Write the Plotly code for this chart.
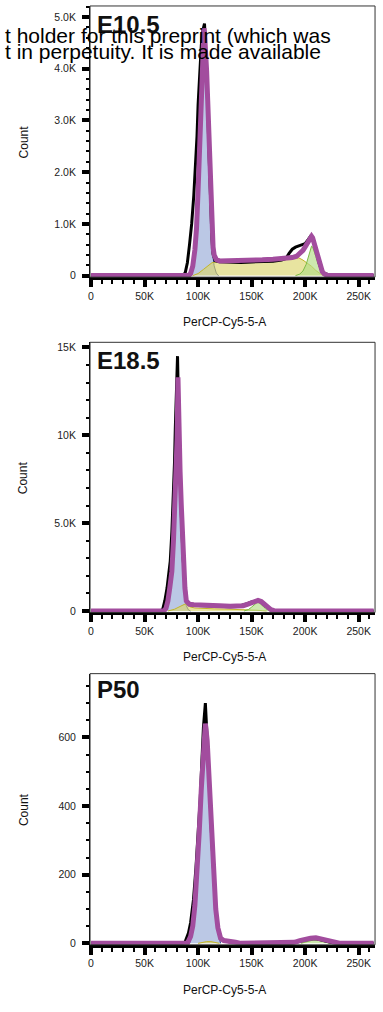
import plotly.graph_objects as go

# ---------------- data (x values in thousands of PerCP-Cy5-5-A units) ----------------
# E10.5
e105_hist_x = [0, 86, 88, 90, 92, 94, 96, 97, 98, 99, 100, 101, 102, 103, 104, 105, 106, 107, 108, 109,
               110, 111, 112, 113, 114, 116, 120, 130, 140, 150, 160, 170, 178, 182, 185, 188, 191, 194, 197, 200,
               203, 205, 207, 209, 211, 213, 215, 218, 222, 228, 232, 235, 264]
e105_hist_y = [0, 0, 60, 250, 600, 1000, 1550, 1900, 2200, 2700, 3300, 3800, 4150, 4450, 4700, 4800, 4870, 4400, 3900, 3300,
               2500, 1800, 1150, 700, 420, 290, 270, 260, 255, 265, 270, 280, 300, 330, 430, 510, 550, 570, 590, 620,
               700, 760, 740, 600, 420, 250, 120, 40, 20, 20, 10, 0, 0]
e105_fit_x = [0, 91, 93, 95, 97, 98.5, 100, 101, 102, 103, 104, 105, 105.5, 106, 107, 108, 109, 110, 111, 112,
              113, 114, 115, 117, 120, 130, 140, 150, 160, 170, 180, 188, 192, 195, 198, 201, 203, 205, 206, 207,
              208, 210, 212, 214, 216, 218, 221, 264]
e105_fit_y = [0, 0, 40, 180, 500, 900, 1650, 2300, 2950, 3550, 4100, 4600, 4780, 4700, 4450, 3950, 3380, 2650, 1950, 1350,
              850, 550, 400, 310, 285, 285, 290, 295, 305, 315, 330, 350, 375, 420, 490, 590, 670, 740, 760, 730,
              660, 480, 310, 180, 80, 30, 0, 0]
e105_g1_x = [92, 94, 96, 98, 99, 100, 101, 102, 103, 104, 105, 105.5, 106, 107, 108, 109, 110, 111, 112, 113, 114, 115, 117, 119]
e105_g1_y = [0, 100, 350, 900, 1350, 1900, 2500, 3150, 3750, 4250, 4600, 4680, 4620, 4350, 3800, 3100, 2350, 1600, 1000, 620, 360, 190, 50, 0]
e105_s_x = [95, 100, 105, 110, 113, 116, 120, 130, 140, 150, 160, 170, 180, 190, 194, 198, 202, 206, 210, 213, 216, 218]
e105_s_y = [0, 40, 120, 210, 250, 260, 265, 270, 275, 285, 295, 305, 320, 340, 345, 300, 240, 180, 100, 50, 10, 0]
e105_g2_x = [191, 195, 198, 201, 203, 205, 206, 207, 208, 210, 212, 214, 216, 218, 221]
e105_g2_y = [0, 30, 90, 220, 360, 520, 570, 555, 500, 370, 230, 120, 50, 15, 0]

# E18.5
e185_hist_x = [0, 65, 67, 69, 71, 72.5, 74, 75.5, 77, 78, 78.7, 79.5, 80.2, 80.8, 81.6, 82.5, 84, 86, 88, 89,
               91, 95, 100, 110, 120, 130, 137, 142, 146, 150, 154, 157, 160, 163, 166, 169, 172, 176, 264]
e185_hist_y = [0, 0, 100, 600, 1300, 2000, 2830, 4500, 6590, 8500, 10360, 12500, 14150, 14500, 12000, 9000, 6000, 3000, 1000, 600,
               400, 330, 310, 280, 250, 240, 260, 330, 420, 510, 570, 560, 450, 280, 150, 60, 15, 0, 0]
e185_fit_x = [0, 68, 70, 71.8, 73.5, 75.5, 77, 78.5, 79.5, 80.4, 81.2, 82.1, 83.2, 84.3, 85.4, 86.5, 87.7, 89, 90.5, 92,
              96, 100, 110, 120, 130, 138, 142, 146, 150, 153, 156, 159, 162, 165, 168, 171, 174, 264]
e185_fit_y = [0, 0, 150, 570, 1300, 2260, 4000, 6020, 7900, 9800, 13300, 9800, 7900, 6020, 4000, 2260, 1300, 570, 420, 380,
              350, 330, 310, 290, 270, 270, 300, 380, 480, 570, 600, 540, 380, 200, 80, 20, 0, 0]
e185_g1_x = [70, 72, 73.5, 75.5, 77, 78.5, 79.5, 80.4, 81.2, 82.1, 83.2, 84.3, 85.4, 86.5, 87.7, 89, 91, 93]
e185_g1_y = [0, 300, 1000, 1900, 3700, 5700, 7600, 9500, 12800, 9500, 7500, 5600, 3600, 1900, 950, 300, 60, 0]
e185_s_x = [72, 78, 84, 88, 90, 93, 97, 105, 115, 125, 135, 145, 150, 155, 160, 164]
e185_s_y = [0, 100, 280, 400, 350, 220, 170, 140, 120, 110, 100, 90, 70, 40, 15, 0]
e185_g2_x = [143, 147, 150, 153, 155, 157, 159, 161, 163, 165, 167, 169]
e185_g2_y = [0, 80, 220, 400, 480, 470, 380, 250, 130, 50, 10, 0]

# P50
p50_hist_x = [0, 86, 88, 91, 93, 95.7, 98, 100.3, 102, 103.3, 105, 106.8, 108.5, 110.5, 112.5, 114.5, 116.5, 118.5, 121, 124,
              130, 140, 150, 188, 195, 200, 205, 210, 215, 220, 226, 232, 264]
p50_hist_y = [0, 0, 5, 30, 60, 127, 220, 320, 420, 513, 630, 700, 600, 470, 320, 190, 100, 45, 18, 8,
              4, 2, 0, 0, 6, 10, 13, 14, 11, 6, 2, 0, 0]
p50_fit_x = [0, 90, 93, 95, 97, 99, 101, 103, 105, 106.8, 108.5, 110.5, 112.5, 114.5, 116.5, 118.5, 121, 124, 128, 135,
             140, 185, 190, 195, 200, 205, 210, 215, 220, 225, 230, 233, 264]
p50_fit_y = [0, 0, 20, 50, 110, 200, 320, 450, 580, 640, 590, 470, 320, 190, 100, 45, 15, 8, 5, 3,
             0, 0, 3, 8, 12, 15, 16, 13, 8, 4, 1, 0, 0]
p50_g1_x = [92, 95, 97, 99, 101, 103, 105, 106.8, 108.5, 110.5, 112.5, 114.5, 116.5, 118.5, 121]
p50_g1_y = [0, 40, 95, 185, 300, 430, 555, 610, 565, 450, 305, 180, 90, 35, 0]
p50_s_x = [100, 104, 108, 112, 116, 120]
p50_s_y = [0, 3, 5, 5, 3, 0]
p50_g2_x = [196, 200, 204, 208, 212, 216, 220, 223]
p50_g2_y = [0, 4, 8, 10, 9, 5, 2, 0]

# tick labels
x_tickvals = [0, 50000, 100000, 150000, 200000, 250000]
x_ticktext = ["0", "50K", "100K", "150K", "200K", "250K"]
e105_yticks = [0, 1000, 2000, 3000, 4000, 5000]
e105_ytext = ["0", "1.0K", "2.0K", "3.0K", "4.0K", "5.0K"]
e185_yticks = [0, 5000, 10000, 15000]
e185_ytext = ["0", "5.0K", "10K", "15K"]
p50_yticks = [0, 200, 400, 600]
p50_ytext = ["0", "200", "400", "600"]

panel_names = ["E10.5", "E18.5", "P50"]

# ---------------- styling ----------------
FONT = "Liberation Sans, Arial, Helvetica, sans-serif"
FIT_COLOR = "#a24d9e"
G1_FILL, G1_LINE = "rgba(150,170,215,0.65)", "#2b3f8a"
S_FILL, S_LINE = "rgba(220,213,109,0.65)", "#c2b52a"
G2_FILL, G2_LINE = "rgba(178,220,132,0.65)", "#7dbb45"

panels = [
    dict(hist=(e105_hist_x, e105_hist_y), fit=(e105_fit_x, e105_fit_y),
         g1=(e105_g1_x, e105_g1_y), s=(e105_s_x, e105_s_y), g2=(e105_g2_x, e105_g2_y),
         yticks=e105_yticks, ytext=e105_ytext, yrange=[-29, 5212], ydomain=[0.72579, 0.99506],
         minor=200, title_y=0.9763),
    dict(hist=(e185_hist_x, e185_hist_y), fit=(e185_fit_x, e185_fit_y),
         g1=(e185_g1_x, e185_g1_y), s=(e185_s_x, e185_s_y), g2=(e185_g2_x, e185_g2_y),
         yticks=e185_yticks, ytext=e185_ytext, yrange=[-85, 15289], ydomain=[0.39279, 0.66107],
         minor=1000, title_y=0.6433),
    dict(hist=(p50_hist_x, p50_hist_y), fit=(p50_fit_x, p50_fit_y),
         g1=(p50_g1_x, p50_g1_y), s=(p50_s_x, p50_s_y), g2=(p50_g2_x, p50_g2_y),
         yticks=p50_yticks, ytext=p50_ytext, yrange=[-4.3, 785.5], ydomain=[0.06275, 0.33202],
         minor=50, title_y=0.3162),
]

X_DOMAIN = [0.23107, 0.97911]
X_RANGE = [-930, 265300]


def k(values):
    return [v * 1000 for v in values]


fig = go.Figure()
layout = dict(
    width=383, height=1012,
    margin=dict(l=0, r=0, t=0, b=0),
    paper_bgcolor="white", plot_bgcolor="white",
    showlegend=False,
    font=dict(family=FONT, color="#111"),
    annotations=[], shapes=[],
)

for i, p in enumerate(panels):
    n = "" if i == 0 else str(i + 1)
    xa, ya = "x" + n, "y" + n

    for key, fill, line in (("g1", G1_FILL, G1_LINE), ("s", S_FILL, S_LINE), ("g2", G2_FILL, G2_LINE)):
        xs, ys = p[key]
        fig.add_trace(go.Scatter(x=k(xs), y=ys, xaxis=xa, yaxis=ya, mode="lines",
                                 fill="tozeroy", fillcolor=fill,
                                 line=dict(color=line, width=1), hoverinfo="skip"))
    hx, hy = p["hist"]
    fig.add_trace(go.Scatter(x=k(hx), y=hy, xaxis=xa, yaxis=ya, mode="lines",
                             line=dict(color="black", width=3)))
    fx, fy = p["fit"]
    fig.add_trace(go.Scatter(x=k(fx), y=fy, xaxis=xa, yaxis=ya, mode="lines",
                             line=dict(color=FIT_COLOR, width=5)))

    layout["xaxis" + n] = dict(
        domain=X_DOMAIN, range=X_RANGE, anchor=ya,
        tickmode="array", tickvals=x_tickvals, ticktext=x_ticktext,
        ticks="outside", ticklen=7, tickwidth=4, tickcolor="black",
        tickfont=dict(size=10.5, color="#222", family=FONT),
        showline=True, linecolor="black", linewidth=3,
        showgrid=False, zeroline=False,
        minor=dict(ticks="outside", ticklen=4, tickwidth=2, tickcolor="black",
                   tickmode="linear", tick0=0, dtick=10000, showgrid=False),
    )
    layout["yaxis" + n] = dict(
        domain=p["ydomain"], range=p["yrange"], anchor=xa,
        tickmode="array", tickvals=p["yticks"], ticktext=p["ytext"],
        ticks="outside", ticklen=7, tickwidth=4, tickcolor="black",
        ticklabelstandoff=4,
        tickfont=dict(size=10.5, color="#222", family=FONT),
        showline=True, linecolor="black", linewidth=1,
        showgrid=False, zeroline=False,
        minor=dict(ticks="outside", ticklen=3, tickwidth=2, tickcolor="black",
                   tickmode="linear", tick0=0, dtick=p["minor"], showgrid=False),
    )

    # thin frame around the plotting area
    layout["shapes"].append(dict(type="rect", xref=xa + " domain", yref=ya + " domain",
                                 x0=0, x1=1, y0=0, y1=1, line=dict(color="#333", width=1),
                                 layer="above"))

    y0, y1 = p["ydomain"]
    layout["annotations"] += [
        dict(text="<b>%s</b>" % panel_names[i], xref="paper", yref="paper",
             x=0.2454, y=p["title_y"], xanchor="left", yanchor="middle",
             showarrow=False, font=dict(size=24, color="#111", family=FONT)),
        dict(text="Count", xref="paper", yref="paper", x=0.0574, y=(y0 + y1) / 2,
             textangle=-90, xanchor="center", yanchor="middle", showarrow=False,
             font=dict(size=12, color="#111", family=FONT)),
        dict(text="PerCP-Cy5-5-A", xref=xa, yref="paper", x=125000,
             y=y0 - 45 / 1012, xanchor="center", yanchor="middle", showarrow=False,
             font=dict(size=12, color="#111", family=FONT)),
    ]

# preprint notice running across the top
layout["annotations"] += [
    dict(text="t holder for this preprint (which was", xref="paper", yref="paper",
         x=333 / 383, y=0.966, xanchor="right", yanchor="middle", showarrow=False,
         font=dict(size=21, color="black", family=FONT)),
    dict(text="t in perpetuity. It is made available", xref="paper", yref="paper",
         x=323 / 383, y=0.9494, xanchor="right", yanchor="middle", showarrow=False,
         font=dict(size=21, color="black", family=FONT)),
]

fig.update_layout(**layout)
fig.write_html("out.html")
